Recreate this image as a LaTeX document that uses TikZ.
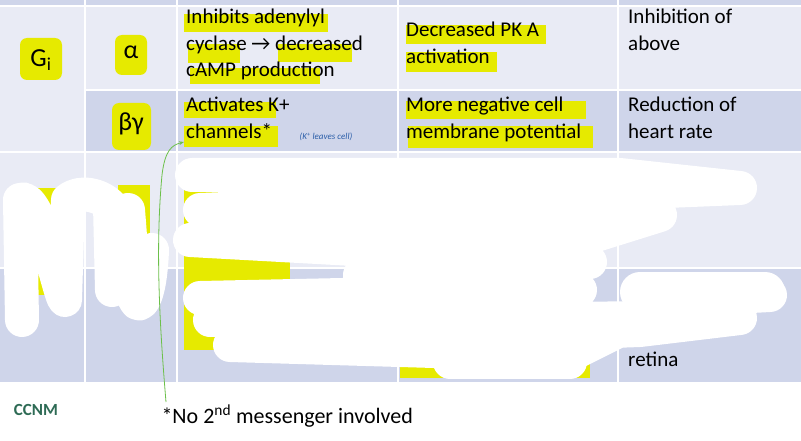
\documentclass[tikz,border=0pt]{standalone}
\usepackage{fontspec}
\setmainfont{Carlito}
\usetikzlibrary{arrows.meta}
\definecolor{lightrow}{HTML}{E9EBF5}
\definecolor{darkrow}{HTML}{CFD5EA}
\definecolor{hl}{HTML}{E6EA00}
\definecolor{pen}{HTML}{2A5DA8}
\definecolor{logo}{HTML}{2E6B55}
\definecolor{greenpen}{HTML}{6CC04A}
\begin{document}
\begin{tikzpicture}[x=1pt,y=-1pt,
  cell/.style={anchor=north west,align=left,font=\fontsize{21}{26.5}\selectfont,inner sep=0pt},
  hlbox/.style={fill=hl,rounded corners=7pt},
  scrub/.style={white,line width=34pt,line cap=round,line join=round}]
\useasboundingbox (0,0) rectangle (801,441);
\fill[white] (0,0) rectangle (801,441);
\fill[darkrow] (0,0) rectangle (801,6);
\fill[lightrow] (0,6) rectangle (801,90);
\fill[lightrow] (0,90) rectangle (177,152);
\fill[darkrow] (85,90) rectangle (801,152);
\fill[lightrow] (0,152) rectangle (801,268);
\fill[darkrow] (0,268) rectangle (801,382);
\foreach \x in {85,177,398,618} \draw[white,line width=1.5pt] (\x,0) -- (\x,382);
\foreach \y in {6,152,268} \draw[white,line width=1.5pt] (0,\y) -- (801,\y);
\draw[white,line width=1.5pt] (85,90) -- (801,90);
% highlights
\fill[hlbox] (20,38) rectangle (62,80);
\fill[hlbox] (115,35) rectangle (147,75);
\fill[hlbox] (112,103) rectangle (151,150);
\fill[hl] (184,14) rectangle (328,32);
\fill[hl] (188,44) rectangle (240,63);
\fill[hl] (278,44) rectangle (352,62);
\fill[hl] (190,68) rectangle (320,84);
\fill[hl] (184,102) rectangle (276,118);
\fill[hl] (184,126) rectangle (278,147);
\fill[hl] (406,25) rectangle (546,44);
\fill[hl] (406,52) rectangle (497,72);
\fill[hl] (406,101) rectangle (586,119);
\fill[hl] (408,126) rectangle (593,148);
\fill[hl] (30,188) rectangle (58,295);
\fill[hl] (118,185) rectangle (150,300);
\fill[hl] (184,180) rectangle (290,350);
\fill[hl] (400,300) rectangle (590,378);
% texts
\node (gi) at (41,60) {\fontsize{26}{28}\selectfont G\textsubscript{i}};
\node (alpha) at (131,52) {\fontsize{26}{28}\selectfont α};
\node (bg) at (131,124) {\fontsize{26}{28}\selectfont βγ};
\node[cell] (a1) at (186,9) {Inhibits adenylyl\\cyclase → decreased\\cAMP production};
\node[cell] (a2) at (406,22) {Decreased PK A\\activation};
\node[cell] (a3) at (628,9) {Inhibition of\\above};
\node[cell] (b1) at (186,97) {Activates K+\\channels*};
\node[cell] (b2) at (406,97) {More negative cell\\membrane potential};
\node[cell] (b3) at (628,97) {Reduction of\\heart rate};
\node[pen,font=\itshape\small] (hand) at (326,137) {(K\textsuperscript{+} leaves cell)};
\node[cell] (arr) at (566,274) {→};
\node[cell] (ret) at (628,352) {retina};
% scribbles
\draw[scrub] (22,320) -- (20,200) .. controls (40,190) and (60,300) .. (65,300) -- (68,200) .. controls (80,190) and (100,195) .. (110,205) -- (112,290) -- (128,210) -- (135,300) .. controls (140,310) and (150,300) .. (152,250);
\draw[scrub] (192,175) -- (620,175) -- (740,188) -- (200,210) -- (660,215) -- (580,240) -- (190,240) -- (590,262) -- (360,275) -- (580,290) -- (200,298) -- (560,303) -- (210,320) -- (740,318) -- (640,330) -- (230,345) -- (570,355) -- (680,300) -- (770,295);
\draw[scrub] (450,362) -- (570,362);
\draw[white,line width=40pt,line cap=round] (640,292) -- (765,292);
% footer
\node[logo,font=\bfseries\fontsize{17}{20}\selectfont\rmfamily] (logo) at (36,410) {CCNM};
\node[anchor=west,font=\fontsize{22}{24}\selectfont] (foot) at (158,416) {*No 2\textsuperscript{nd} messenger involved};
\coordinate (tip) at (184,142);
\draw[greenpen,line width=0.8pt,-{Stealth[length=5pt]}] (166,402) .. controls (160,330) and (155,250) .. (162,175) .. controls (165,150) and (172,145) .. (tip);
\end{tikzpicture}
\end{document}
